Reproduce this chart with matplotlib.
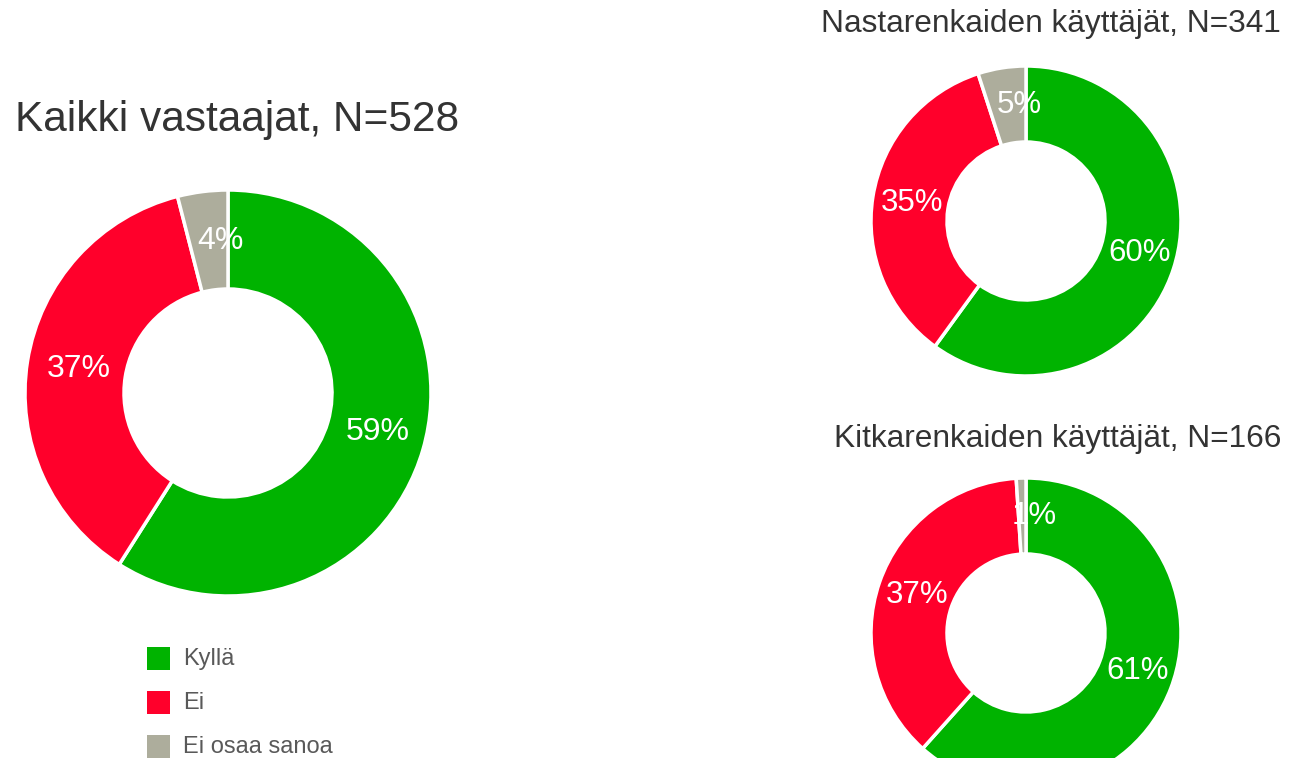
import matplotlib.pyplot as plt
from matplotlib.patches import Rectangle
import numpy as np

plt.rcParams["font.family"] = ["Liberation Sans", "DejaVu Sans"]

categories = ["Kyllä", "Ei", "Ei osaa sanoa"]
colors = ["#00B300", "#FF002B", "#ADAD9C"]

all_title = "Kaikki vastaajat, N=528"
all_values = [59, 37, 4]

stud_title = "Nastarenkaiden käyttäjät, N=341"
stud_values = [60, 35, 5]

friction_title = "Kitkarenkaiden käyttäjät, N=166"
friction_values = [61, 37, 1]

W, H = 1291, 758
fig = plt.figure(figsize=(W / 100, H / 100), dpi=100, facecolor="white")
ax = fig.add_axes([0, 0, 1, 1])


def donut(values, cx, cy, r, hole, fontsize):
    # cy is measured from the top edge, like screen coordinates
    y = H - cy
    ax.pie(values, colors=colors, center=(cx, y), radius=r, startangle=90,
           counterclock=False,
           wedgeprops=dict(width=r - hole, edgecolor="white", linewidth=2.5))
    total = float(sum(values))
    start = 0.0
    mid_r = (r + hole) / 2
    for v in values:
        frac = (start + v / 2) / total
        ang = np.deg2rad(90 - 360 * frac)
        # thin slices near the top get their label nudged right
        dx = 12 if v / total < 0.06 else 2
        dy = 4 if np.sin(ang) < 0 else 0
        ax.text(cx + mid_r * np.cos(ang) + dx, y + mid_r * np.sin(ang) + dy, f"{v}%",
                ha="center", va="center", color="white", fontsize=fontsize)
        start += v


donut(all_values, 228, 393, 203, 104, 23)
donut(stud_values, 1026, 221, 155, 79, 22.5)
donut(friction_values, 1026, 633, 155, 79, 22.5)

title_color = "#333333"
ax.text(15, H - 120, all_title, fontsize=30.5, color=title_color, ha="left", va="center")
ax.text(1281, H - 24, stud_title, fontsize=22.8, color=title_color, ha="right", va="center")
ax.text(1281, H - 439, friction_title, fontsize=22.8, color=title_color, ha="right", va="center")

# legend for the large donut
for i, (name, col) in enumerate(zip(categories, colors)):
    ty = H - (659 + 44 * i)
    ax.add_patch(Rectangle((147, ty - 11), 23, 23, facecolor=col, edgecolor="none"))
    ax.text(183, ty, name, fontsize=17, color="#595959", ha="left", va="center")

ax.set_xlim(0, W)
ax.set_ylim(0, H)
ax.set_aspect("equal")
ax.axis("off")

fig.savefig("out.png", dpi=100, facecolor="white")
